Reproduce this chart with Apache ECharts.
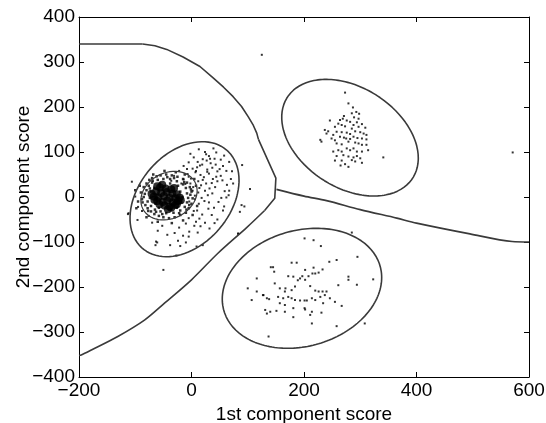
<!DOCTYPE html>
<html><head><meta charset="utf-8">
<script src="https://cdn.jsdelivr.net/npm/echarts@6/dist/echarts.min.js"></script>
<style>html,body{margin:0;padding:0;background:#fff}#c{width:546px;height:423px}</style>
</head><body><div id="c"></div>
<script>
// Axis ranges / tick steps
const xRange = [-200, 600];
const xStep = 200;
const yRange = [-400, 400];
const yStep = 100;
const xTitle = '1st component score';
const yTitle = '2nd component score';

// Decision boundaries (data units)
const boundaryFlat = [[-200,340],[-87,340]];
const boundaryTop = [[-87,340],[-65,336],[-44,328],[-15,311],[15,290],[39,264],[57,244],[74,223],[89,201],[101,178],[110,159],[116,142],[119,128]];
const boundaryMid = [[119,128],[150,42],[148,-3],[130,-30]];
const boundaryBottom = [[130,-30],[98,-68],[47,-125],[0,-184],[-48,-236],[-83,-273],[-131,-310],[-178,-340],[-196,-351],[-200,-352]];
const boundaryRight = [[151,17],[200,2],[240,-8],[300,-28],[365,-47],[400,-58],[495,-82],[570,-99],[600,-100]];

// Ellipses: [centerX, centerY, halfWidthX, halfHeightY, correlation]
const ellipseOuter1 = [-12.4,-4.9,96.9,127.8,0.33];
const ellipseInner1 = [-40,3,50,54,0.2];
const ellipse2 = [281.8,131.8,121.4,129.6,-0.35];
const ellipse3 = [196.4,-202.9,141.7,133.3,0.18];

// Scatter points
const coreCluster = [[-56,21],[-46,19],[-36,17],[-63,12],[-54,9],[-44,11],[-34,8],[-26,6],
  [-67,1],[-59,-1],[-49,2],[-39,-2],[-29,-3],[-21,-1],[-61,-9],[-51,-11],[-43,-8],[-33,-12],[-24,-9],
  [-48,-19],[-39,-21],[-29,-18],[-61,24],[-31,20],[-71,7],[-19,-7],[-42,-27],[-26,-16],[-52,27],[-66,-6],
  [-36,-24],[-57,-16]];
const denseRing = [[-90,10],[-88,-5],[-85,22],[-82,-18],[-80,30],[-78,-25],[-75,38],[-72,-32],[-70,42],[-66,-38],
  [-62,46],[-58,-42],[-55,48],[-50,-45],[-45,50],[-40,-47],[-35,48],[-30,-45],[-25,45],[-20,-40],[-15,40],[-10,-35],
  [-8,32],[-5,-25],[-3,22],[0,-15],[0,12],[2,-3],[-2,5],[-85,0],[-80,15],[-78,-10],[-76,25],[-72,-20],[-70,32],
  [-65,-28],[-60,38],[-55,-32],[-50,40],[-45,-36],[-38,40],[-32,-35],[-26,35],[-20,-30],[-15,28],[-12,-22],[-10,20],
  [-8,-12],[-8,8],[-6,-2],[-95,-10],[-92,25],[-68,50],[-48,58],[-28,55],[-12,50],[5,40],[8,25],[10,-20],[2,-40],
  [-15,-52],[-35,-58],[-60,-55],[-80,-45],[-98,-25],[-100,15],[-74,-2],[-72,12],[-66,20],[-64,-15],[-20,12],
  [-18,-12],[-16,0],[-24,25],[-26,-24],[-56,30],[-58,-24],[-38,30],[-36,-28],[-83,7],[-77,-31],[-69,36],[-52,-38],
  [-43,44],[-22,-36],[-13,33],[-4,-18],[-1,17],[-87,-12],[-74,19],[-63,-33],[-31,42],[-9,-28]];
const halo1 = [[13,106],[26,95],[31,91],[44,99],[4,88],[20,84],[27,81],[41,85],[52,83],[58,92],[-5,77],[11,78],[19,72],
  [34,75],[43,72],[56,69],[67,78],[-14,69],[2,63],[10,66],[28,61],[37,65],[46,57],[62,58],[72,57],[-22,58],[-7,51],
  [7,55],[16,49],[31,52],[44,45],[52,47],[70,40],[-31,47],[-14,39],[-1,41],[12,35],[20,38],[36,31],[46,35],[63,27],
  [74,30],[-36,36],[-11,29],[3,22],[17,26],[32,19],[42,22],[59,13],[67,14],[2,14],[12,10],[29,4],[37,8],[53,-2],
  [62,-1],[6,-5],[23,-9],[31,-12],[48,-11],[58,-21],[13,-15],[30,-26],[40,-24],[56,-30],[4,-31],[19,-39],[36,-40],
  [46,-50],[-5,-47],[14,-48],[24,-57],[41,-58],[-10,-59],[5,-64],[16,-65],[32,-70],[-22,-68],[-4,-77],[11,-79],
  [-30,-80],[-15,-86],[-5,-88],[-43,-84],[-24,-97],[-10,-101],[-52,-64],[-60,-75],[-70,-57],[-76,-42],[-88,-31],
  [-95,-22],[-100,1],[-106,34],[-112,-36],[-96,-51],[-63,-99],[-38,-107],[-20,-109],[9,-110],[-61,-101],[-64,-107],
  [-113,-38],[-27,-130],[20,-107],[-5,45],[8,58],[-18,30],[22,44],[-2,30],[14,20],[26,30],[6,3],[18,-2],[-4,-10],
  [10,-30],[24,14],[38,40],[28,56],[50,62],[15,70],[33,85],[-8,62],[24,100],[39,108],[-2,96],[55,37],[66,4],[8,-55]];
const cluster2 = [[273,232],[279,208],[287,199],[285,186],[293,189],[298,185],[271,180],[289,177],[297,174],[264,171],
  [269,174],[276,170],[282,167],[294,166],[246,170],[261,163],[267,160],[288,160],[303,162],[255,156],[273,157],
  [285,152],[297,156],[309,154],[237,149],[243,146],[240,141],[252,138],[258,145],[267,144],[276,143],[282,140],
  [291,146],[300,144],[306,141],[311,138],[229,127],[231,123],[249,130],[255,126],[264,134],[271,132],[275,130],
  [282,129],[288,134],[295,131],[303,130],[311,128],[258,119],[267,117],[279,123],[291,121],[297,119],[303,116],
  [311,116],[314,104],[252,101],[261,104],[267,101],[276,108],[282,104],[288,108],[294,101],[303,101],[258,91],
  [270,93],[279,90],[288,88],[294,91],[300,86],[255,81],[267,81],[285,82],[291,79],[303,76],[265,70],[273,73],
  [279,67],[341,88]];
const cluster3 = [[201,-92],[217,-96],[230,-109],[285,-79],[295,-133],[258,-140],[245,-144],[178,-146],[187,-146],
  [141,-156],[147,-166],[217,-157],[202,-162],[226,-168],[215,-170],[208,-176],[197,-176],[193,-181],[181,-177],
  [172,-176],[189,-185],[202,-184],[220,-170],[233,-161],[116,-181],[148,-192],[279,-177],[279,-184],[294,-195],
  [323,-183],[261,-196],[211,-198],[184,-199],[178,-207],[167,-203],[166,-210],[157,-203],[220,-208],[226,-210],
  [233,-210],[240,-210],[100,-203],[116,-210],[128,-218],[134,-225],[138,-227],[107,-229],[154,-222],[163,-225],
  [172,-222],[178,-225],[184,-229],[193,-230],[201,-230],[205,-230],[214,-225],[220,-229],[229,-222],[237,-218],
  [246,-225],[255,-233],[234,-236],[157,-236],[166,-240],[181,-247],[201,-247],[202,-250],[131,-251],[134,-259],
  [140,-255],[151,-253],[166,-255],[214,-255],[231,-257],[181,-267],[211,-262],[214,-281],[258,-287],[308,-281],
  [137,-310],[267,-242],[145,-156],[127,-218]];
const outliers = [[125,316],[571,99],[90,71],[104,18],[89,-18],[94,-21],[86,-33],[-50,-162],[83,-82],[83,-81]];

function ellipsePts(e){
  const [cx,cy,hw,hh,rho]=e; const s=Math.sqrt(1-rho*rho); const pts=[];
  for(let i=0;i<=180;i++){const t=i/180*2*Math.PI; pts.push([cx+hw*Math.cos(t), cy+hh*(rho*Math.cos(t)+s*Math.sin(t))]);}
  return pts;
}
const fmt = v => v<0 ? '\u2212'+Math.abs(v) : String(v);
const font = 'Liberation Sans, Arial, sans-serif';
const fs = 19;
const lineCol = '#3a3a3a';
function axisBase(range, step, pos, showLabel){
  return {type:'value', min:range[0], max:range[1], interval:step, position:pos,
    axisLine:{show:true,onZero:false,lineStyle:{color:'#000',width:1}},
    axisTick:{show:true,inside:true,length:5,lineStyle:{color:'#000',width:1}},
    axisLabel:{show:showLabel,fontSize:fs,color:'#000',fontFamily:font,margin:showLabel?4:0,formatter:fmt},
    splitLine:{show:false}};
}
const xMain = Object.assign(axisBase(xRange,xStep,'bottom',true),{name:xTitle,nameLocation:'middle',nameGap:24,
  nameTextStyle:{fontSize:fs,color:'#000',fontFamily:font}});
const yMain = Object.assign(axisBase(yRange,yStep,'left',true),{name:yTitle,nameLocation:'middle',nameGap:46,
  nameMoveOverlap:false,nameTextStyle:{fontSize:fs,color:'#000',fontFamily:font}});
function lineSeries(data, w, sm){
  return {type:'line',data:data,symbol:'none',smooth:sm||false,lineStyle:{color:lineCol,width:w||1.6},
    clip:true,silent:true,animation:false,z:3};
}
function scatterSeries(data,size,sym){
  return {type:'scatter',data:data,symbol:sym||'rect',symbolSize:size,itemStyle:{color:'#000'},silent:true,animation:false,z:2};
}
const chart = echarts.init(document.getElementById('c'),null,{renderer:'canvas'});
chart.setOption({
  animation:false,
  backgroundColor:'#fff',
  grid:{left:79,right:17,top:17,bottom:46,outerBoundsMode:'none'},
  xAxis:[xMain, axisBase(xRange,xStep,'top',false)],
  yAxis:[yMain, axisBase(yRange,yStep,'right',false)],
  series:[
    scatterSeries(coreCluster,8,'circle'),
    scatterSeries(denseRing,2.5),
    scatterSeries(halo1,2),
    scatterSeries(cluster2,2),
    scatterSeries(cluster3,2),
    scatterSeries(outliers,2),
    lineSeries(boundaryFlat),
    lineSeries(boundaryTop),
    lineSeries(boundaryMid),
    lineSeries(boundaryBottom,1.6,0.3),
    lineSeries(boundaryRight,1.6,0.3),
    lineSeries(ellipsePts(ellipseOuter1)),
    lineSeries(ellipsePts(ellipseInner1),1.2),
    lineSeries(ellipsePts(ellipse2)),
    lineSeries(ellipsePts(ellipse3))
  ]
});
</script></body></html>
